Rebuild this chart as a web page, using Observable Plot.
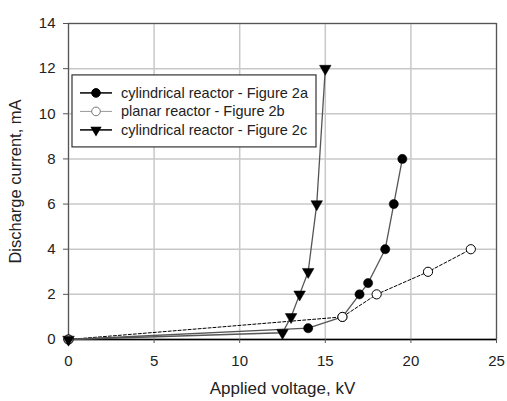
<!DOCTYPE html>
<html><head><meta charset="utf-8">
<script src="https://cdn.jsdelivr.net/npm/d3@7"></script>
<script src="https://cdn.jsdelivr.net/npm/@observablehq/plot@0.6"></script>
<style>
body{margin:0;background:#fff;}
#chart{width:507px;height:401px;}
</style>
</head><body><div id="chart"></div>
<script>
const seriesNames = ["cylindrical reactor - Figure 2a", "planar reactor - Figure 2b", "cylindrical reactor - Figure 2c"];
const voltA = [0, 14, 16, 17, 17.5, 18.5, 19, 19.5];
const currentA = [0, 0.5, 1, 2, 2.5, 4, 6, 8];
const voltB = [0, 16, 18, 21, 23.5];
const currentB = [0, 1, 2, 3, 4];
const voltC = [0, 12.5, 13, 13.5, 14, 14.5, 15];
const currentC = [0, 0.3, 1, 2, 3, 6, 12];
const xTicks = [0, 5, 10, 15, 20, 25];
const yTicks = [0, 2, 4, 6, 8, 10, 12, 14];
const xLabel = "Applied voltage, kV";
const yLabel = "Discharge current, mA";

const A = voltA.map((v, i) => ({x: v, y: currentA[i]}));
const B = voltB.map((v, i) => ({x: v, y: currentB[i]}));
const C = voltC.map((v, i) => ({x: v, y: currentC[i]}));

const font = "'Liberation Sans', Arial, sans-serif";
const plot = Plot.plot({
  width: 507, height: 401,
  marginLeft: 68, marginRight: 11, marginTop: 23, marginBottom: 62,
  style: {fontFamily: font, fontSize: "15px", color: "#222", background: "#fff"},
  x: {domain: [0, 25], ticks: xTicks},
  y: {domain: [0, 14], ticks: yTicks},
  marks: [
    Plot.gridX(xTicks, {stroke: "#c8c8c8", strokeOpacity: 1, strokeWidth: 1.5}),
    Plot.gridY(yTicks, {stroke: "#c8c8c8", strokeOpacity: 1, strokeWidth: 1.5}),
    Plot.frame({stroke: "#555", strokeWidth: 1.2}),
    Plot.ruleY([0], {stroke: "#000", strokeWidth: 1.3}),
    Plot.axisX({ticks: xTicks, tickSize: 4, tickPadding: 12, label: null, fontSize: 15, stroke: "#555"}),
    Plot.axisY({ticks: yTicks, tickSize: 5, tickPadding: 8, label: null, fontSize: 15, stroke: "#555"}),
    Plot.text([xLabel], {frameAnchor: "bottom", dy: 54, fontSize: 17, fill: "#222"}),
    Plot.text([yLabel], {frameAnchor: "left", textAnchor: "middle", dx: -53, rotate: -90, fontSize: 16.5, fill: "#222"}),
    Plot.line(B, {x: "x", y: "y", stroke: "#000", strokeWidth: 1, strokeDasharray: "3,2"}),
    Plot.line(A, {x: "x", y: "y", stroke: "#555", strokeWidth: 1.3}),
    Plot.line(C, {x: "x", y: "y", stroke: "#555", strokeWidth: 1.3}),
    Plot.dot(A, {x: "x", y: "y", r: 4.6, fill: "#000", stroke: "#000", strokeWidth: 0.5}),
    Plot.dot(B, {x: "x", y: "y", r: 4.6, fill: "#fff", stroke: "#000", strokeWidth: 1}),
    Plot.dot(C, {x: "x", y: "y", r: 4.3, symbol: "triangle", rotate: 180, fill: "#000", stroke: "#000", strokeWidth: 0.5})
  ]
});
document.getElementById("chart").appendChild(plot);

// legend box inside plot area
const svg = d3.select(plot);
const sx = plot.scale("x"), sy = plot.scale("y");
const lx0 = sx.apply(0) + 4, ly0 = sy.apply(11.7);
const g = svg.append("g").attr("transform", `translate(${lx0},${ly0})`).attr("text-anchor", "start");
g.append("rect").attr("x", 0).attr("y", 0).attr("width", 244).attr("height", 72)
  .attr("fill", "#fff").attr("stroke", "#333").attr("stroke-width", 1.2);
const styles = [
  {line: "#000", w: 1.5, fill: "#000", sym: "circle"},
  {line: "#999", w: 1, fill: "#fff", sym: "circle"},
  {line: "#000", w: 1.5, fill: "#000", sym: "tri"}
];
seriesNames.forEach((name, i) => {
  const y = 18 + i * 18.5;
  const s = styles[i];
  g.append("line").attr("x1", 8).attr("x2", 40).attr("y1", y).attr("y2", y)
    .attr("stroke", s.line).attr("stroke-width", s.w);
  if (s.sym === "circle") {
    g.append("circle").attr("cx", 24).attr("cy", y).attr("r", 4.3)
      .attr("fill", s.fill).attr("stroke", i === 1 ? "#777" : "#000").attr("stroke-width", 1);
  } else {
    g.append("path").attr("d", d3.symbol(d3.symbolTriangle, 55)())
      .attr("transform", `translate(24,${y}) rotate(180)`).attr("fill", "#000");
  }
  g.append("text").attr("x", 49).attr("y", y).attr("dy", "0.35em").attr("text-anchor", "start")
    .attr("font-size", 14.5).attr("font-family", font).attr("fill", "#222").text(name);
});
</script>
</body></html>
